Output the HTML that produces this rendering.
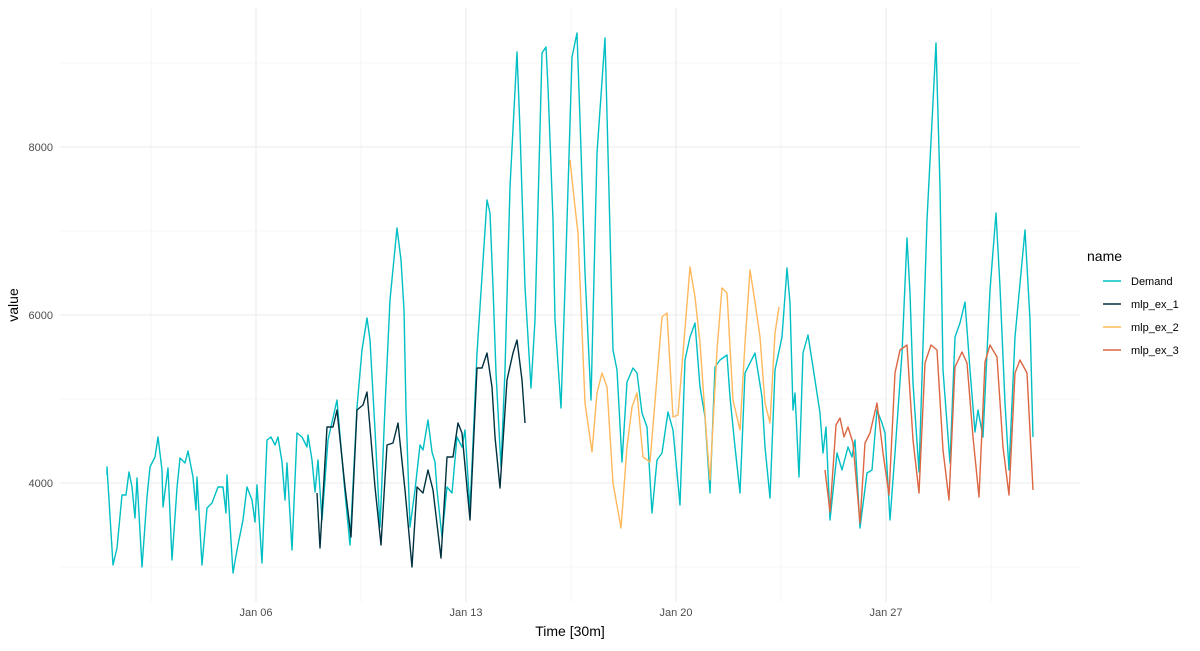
<!DOCTYPE html>
<html><head><meta charset="utf-8"><style>
body{margin:0;background:#fff;}
svg text{font-family:"Liberation Sans",sans-serif;}
</style></head><body>
<svg width="1200" height="646" viewBox="0 0 1200 646" xmlns="http://www.w3.org/2000/svg">
<g stroke="#f0f0f0" stroke-width="0.6">
<line x1="60" x2="1080" y1="567" y2="567"/><line x1="60" x2="1080" y1="399" y2="399"/><line x1="60" x2="1080" y1="231" y2="231"/><line x1="60" x2="1080" y1="63" y2="63"/>
<line x1="151" x2="151" y1="8" y2="602"/><line x1="361" x2="361" y1="8" y2="602"/><line x1="571" x2="571" y1="8" y2="602"/><line x1="781" x2="781" y1="8" y2="602"/><line x1="991" x2="991" y1="8" y2="602"/>
</g>
<g stroke="#ebebeb" stroke-width="1.1">
<line x1="60" x2="1080" y1="483" y2="483"/><line x1="60" x2="1080" y1="315" y2="315"/><line x1="60" x2="1080" y1="147" y2="147"/>
<line x1="256" x2="256" y1="8" y2="602"/><line x1="466" x2="466" y1="8" y2="602"/><line x1="676" x2="676" y1="8" y2="602"/><line x1="886" x2="886" y1="8" y2="602"/>
</g>
<g fill="none" stroke-width="1.4" stroke-linejoin="round">
<polyline stroke="#00bfc4" points="107,475 107,467 113,565 117,548 122,495 126,495 129,472 132,487 135,518 137,478 142,567 147,497 150,467 155,457 158,437 162,470 163,507 168,468 172,560 177,488 180,458 185,463 188,451 193,477 196,510 197,477 202,565 207,508 212,503 218,487 223,487 226,513 227,475 233,573 237,550 243,520 247,487 252,500 255,522 257,485 262,563 267,440 271,437 275,445 278,437 282,462 285,500 287,463 292,550 297,433 302,437 307,447 308,435 312,460 315,492 318,460 322,520 328,440 337,400 338,412 345,493 350,545 357,407 362,350 367,318 370,340 375,430 380,527 385,407 390,300 397,228 401,260 404,310 406,410 410,527 415,490 420,445 423,450 428,420 432,452 435,462 437,490 442,537 447,487 452,493 457,437 462,447 465,430 470,510 477,353 487,200 490,213 493,287 496,373 501,467 505,370 510,187 517,52 520,130 525,287 531,388 535,320 542,53 546,47 548,87 553,220 555,320 561,408 565,287 572,57 577,33 580,120 585,273 591,400 597,153 605,38 608,153 613,350 617,370 622,462 627,382 633,368 637,373 642,413 647,427 652,513 657,460 662,453 668,412 673,430 680,505 685,360 690,337 695,323 700,387 705,417 710,493 715,367 720,360 727,355 730,397 735,447 740,493 745,373 755,353 762,397 765,447 770,498 775,370 782,337 787,268 790,303 793,410 795,393 799,477 803,353 808,335 813,367 820,413 823,453 826,427 830,520 837,453 842,470 848,447 852,457 855,440 860,528 867,473 872,470 877,410 882,423 885,433 890,520 895,453 902,353 907,238 910,293 913,383 919,472 927,220 936,43 940,187 943,370 950,463 955,337 960,323 965,302 970,370 975,432 978,410 983,437 990,290 996,213 1000,287 1005,403 1009,470 1015,337 1025,230 1030,320 1033,437"/>
<polyline stroke="#00313f" points="317,493 320,548 327,427 333,427 337,410 345,487 351,537 357,410 363,405 367,392 375,487 381,545 387,445 393,443 398,423 405,490 412,567 417,487 423,493 428,470 433,490 441,558 447,457 453,457 458,423 462,433 470,520 477,368 482,368 487,353 492,387 495,437 500,488 507,380 513,353 517,340 522,380 525,423"/>
<polyline stroke="#ffb85c" points="570,160 575,207 578,233 585,403 592,452 597,393 602,373 607,387 613,483 621,528 627,447 632,407 637,393 643,457 650,462 662,317 667,313 673,417 678,415 690,267 695,297 700,343 707,443 710,480 717,350 722,288 727,293 733,400 740,430 745,343 750,270 755,302 760,337 765,403 770,423 775,333 779,307"/>
<polyline stroke="#dc6642" points="825,470 830,512 836,425 840,418 844,437 848,427 853,443 860,523 865,443 870,433 877,403 883,453 889,495 895,373 900,350 907,345 913,440 919,493 925,363 931,345 937,350 943,450 949,500 955,367 962,352 967,363 973,437 979,497 985,362 990,345 997,357 1003,447 1009,495 1015,373 1020,360 1027,373 1033,490"/>
</g>
<g font-size="11" fill="#4d4d4d" text-anchor="end">
<text x="53" y="487">4000</text><text x="53" y="319">6000</text><text x="53" y="151">8000</text>
</g>
<g font-size="11" fill="#4d4d4d" text-anchor="middle">
<text x="256" y="616">Jan 06</text><text x="466" y="616">Jan 13</text><text x="676" y="616">Jan 20</text><text x="886" y="616">Jan 27</text>
</g>
<text x="570" y="636" font-size="14" text-anchor="middle" fill="#000">Time [30m]</text>
<text transform="translate(18,305) rotate(-90)" font-size="14" text-anchor="middle" fill="#000">value</text>
<text x="1087" y="261" font-size="14" fill="#000">name</text>
<g stroke-width="1.4">
<line x1="1103" x2="1121" y1="281" y2="281" stroke="#00bfc4"/>
<line x1="1103" x2="1121" y1="304" y2="304" stroke="#00313f"/>
<line x1="1103" x2="1121" y1="327" y2="327" stroke="#ffb85c"/>
<line x1="1103" x2="1121" y1="350" y2="350" stroke="#dc6642"/>
</g>
<g font-size="11" fill="#000">
<text x="1131" y="285">Demand</text><text x="1131" y="308">mlp_ex_1</text><text x="1131" y="331">mlp_ex_2</text><text x="1131" y="354">mlp_ex_3</text>
</g>
</svg>
</body></html>
